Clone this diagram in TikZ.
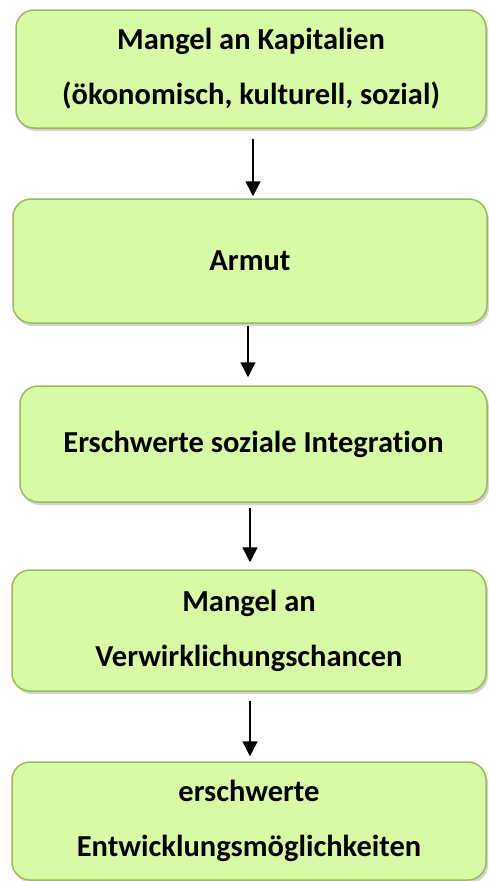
\documentclass[tikz,border=0pt]{standalone}
\usepackage{fontspec}
\setmainfont{Carlito}[Ligatures=NoCommon]
\usetikzlibrary{arrows.meta}
\usetikzlibrary{shadows}

\definecolor{boxfill}{RGB}{217,250,165}
\definecolor{boxline}{RGB}{155,187,89}

\begin{document}
\begin{tikzpicture}[x=1pt, y=-1pt,
	stufe/.style={draw=boxline, fill=boxfill, line width=1.5pt, rounded corners=18pt, inner sep=0pt, align=center,
		font=\bfseries\fontsize{30.5}{55}\selectfont,
		drop shadow={shadow xshift=2pt, shadow yshift=-3pt, opacity=0.35}},
	folge/.style={line width=1.5pt, -{Triangle[length=15pt, width=15pt]}}]

		%page size
		\useasboundingbox (0,0) rectangle (488,881);

		%boxes, top to bottom
		\node[stufe, minimum width=470pt, minimum height=118pt] (kapital) at (251,69) {Mangel an Kapitalien\\(ökonomisch, kulturell, sozial)};
		\node[stufe, minimum width=474pt, minimum height=124pt] (armut) at (250,261) {Armut};
		\node[stufe, minimum width=467pt, minimum height=116pt] (integration) at (253.5,444) {Erschwerte soziale Integration};
		\node[stufe, minimum width=474pt, minimum height=121pt] (chancen) at (249,630.5) {Mangel an\\Verwirklichungschancen};
		\node[stufe, minimum width=474pt, minimum height=118pt] (entwicklung) at (249,821) {erschwerte\\Entwicklungsmöglichkeiten};

		%arrows between boxes
		\draw[folge, shorten <=10pt, shorten >=2pt] ([xshift=2pt]kapital.south) -- ([xshift=2pt]kapital.south |- armut.north);
		\draw[folge, shorten <=2pt, shorten >=8pt] ([xshift=-2pt]armut.south) -- ([xshift=-2pt]armut.south |- integration.north);
		\draw[folge, shorten <=5pt, shorten >=7pt] ([xshift=-3.5pt]integration.south) -- ([xshift=-3.5pt]integration.south |- chancen.north);
		\draw[folge, shorten <=9pt, shorten >=5pt] ([xshift=1pt]chancen.south) -- ([xshift=1pt]chancen.south |- entwicklung.north);

	\end{tikzpicture}
\end{document}
